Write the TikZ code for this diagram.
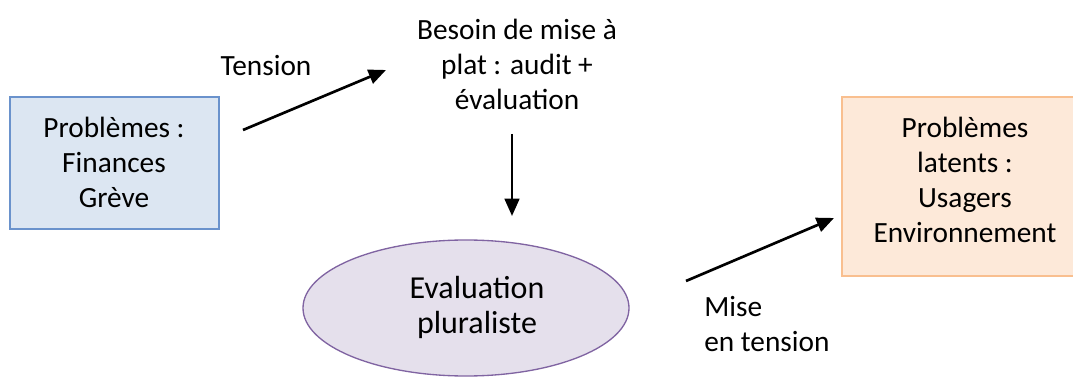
\documentclass[tikz,border=0pt]{standalone}
\usepackage{fontspec}
\setmainfont{Carlito}
\usetikzlibrary{arrows.meta,shapes.geometric}
\definecolor{bluefill}{HTML}{DCE6F2}
\definecolor{blueline}{HTML}{6A92CC}
\definecolor{peachfill}{HTML}{FDE9D9}
\definecolor{peachline}{HTML}{F9BF8F}
\definecolor{lilacfill}{HTML}{E5E0EC}
\definecolor{lilacline}{HTML}{8064A2}
\def\upx{0.75pt}
\tikzset{
  lbl/.style={font=\fontsize{22pt}{26.25pt}\selectfont, inner sep=0pt, align=center},
  biglbl/.style={font=\fontsize{24pt}{26.25pt}\selectfont, inner sep=0pt, align=center},
  boxshape/.style={rectangle, inner sep=0pt, line width=1pt},
  arr/.style={line width=2pt, -{Triangle[length=13pt,width=11pt]}}
}
\begin{document}
\begin{tikzpicture}[x=0.75pt,y=-0.75pt]
\useasboundingbox (0,0) rectangle (1073,377);
% left box
\node[boxshape, draw=blueline, fill=bluefill, minimum width=209*\upx, minimum height=132*\upx] (lbox) at (114.5,163) {};
\node[lbl] (ltext) at (114,162) {Problèmes :\\Finances\\Grève};
% right box (extends past the right edge)
\node[boxshape, draw=peachline, fill=peachfill, minimum width=246*\upx, minimum height=179*\upx] (rbox) at (965,186.5) {};
\node[lbl] (rtext) at (965,179.5) {Problèmes\\latents :\\Usagers\\Environnement};
% ellipse
\node[ellipse, draw=lilacline, fill=lilacfill, line width=1pt, inner sep=0pt, minimum width=326*\upx, minimum height=136*\upx] (ell) at (466,308) {};
\node[biglbl] (etext) at (477,307) {Evaluation\\pluraliste};
% top text
\node[lbl] (ttext) at (517,64.5) {Besoin de mise à\\plat : audit +\\évaluation};
% labels
\node[lbl, anchor=base] (tension) at (266,76) {Tension};
\node[lbl, align=left, anchor=west] (mise) at (704,324) {Mise\\en tension};
% arrows
\coordinate (a1s) at (243,130);
\coordinate (a1e) at (386,70);
\coordinate (a2s) at (512,134);
\coordinate (a2e) at (512,216);
\coordinate (a3s) at (686,281);
\coordinate (a3e) at (834,218);
\draw[arr] (a1s) -- (a1e);
\draw[arr] (a2s) -- (a2e);
\draw[arr] (a3s) -- (a3e);
\end{tikzpicture}
\end{document}
